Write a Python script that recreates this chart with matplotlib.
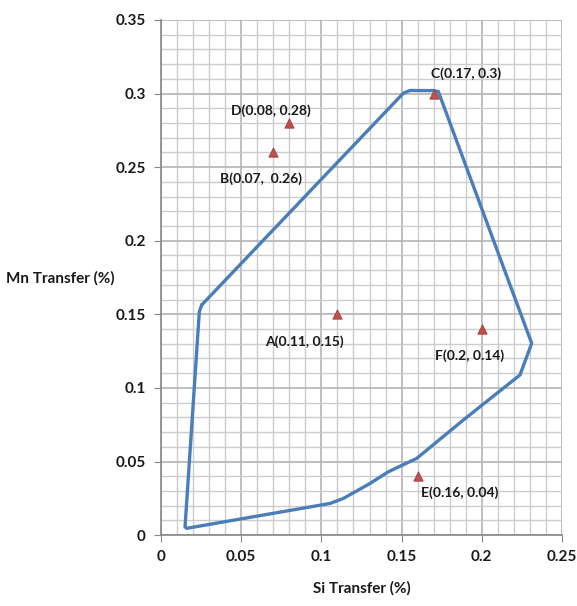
import numpy as np
import matplotlib.pyplot as plt
from matplotlib.ticker import MultipleLocator

plt.rcParams['font.family'] = ['Lato', 'DejaVu Sans']

# Boundary of the feasible region
region_si = [0.0254, 0.0239, 0.0150, 0.0160, 0.1054, 0.1137, 0.1303, 0.1417,
             0.1594, 0.1885, 0.2238, 0.2311, 0.1729, 0.1700, 0.1552, 0.1511, 0.0254]
region_mn = [0.1564, 0.1518, 0.0056, 0.0046, 0.0215, 0.0249, 0.0351, 0.0430,
             0.0521, 0.0782, 0.1088, 0.1303, 0.3014, 0.3020, 0.3021, 0.3003, 0.1564]

# Experiment points
point_names = ['A', 'B', 'C', 'D', 'E', 'F']
point_si = [0.11, 0.07, 0.17, 0.08, 0.16, 0.20]
point_mn = [0.15, 0.26, 0.30, 0.28, 0.04, 0.14]
point_labels = ['A(0.11, 0.15)', 'B(0.07,  0.26)', 'C(0.17, 0.3)',
                'D(0.08, 0.28)', 'E(0.16, 0.04)', 'F(0.2, 0.14)']
# label offsets in points
label_offsets = [(-24, -20), (-9, -19), (23, 14), (-13, 9), (30, -12), (-9, -19)]

fig = plt.figure(figsize=(5.77, 6.06), dpi=100)
ax = fig.add_axes([0.279, 0.117, 0.695, 0.850])

ax.plot(region_si, region_mn, color='#4A7EBB', lw=2.4, solid_joinstyle='round',
        solid_capstyle='round', zorder=3)
ax.scatter(point_si, point_mn, marker='^', s=45, color='#C0504D',
           edgecolors='#A03A37', linewidths=0.6, zorder=4)

for x, y, txt, off in zip(point_si, point_mn, point_labels, label_offsets):
    ax.annotate(txt, (x, y), xytext=off, textcoords='offset points',
                ha='center', va='center', fontsize=10, fontweight='bold',
                color='#1a1a1a', zorder=5)

ax.set_xlim(0, 0.25)
ax.set_ylim(0, 0.35)
ax.xaxis.set_minor_locator(MultipleLocator(0.01))
ax.yaxis.set_minor_locator(MultipleLocator(0.01))
ax.set_xticks(np.arange(0, 0.26, 0.05))
ax.set_xticklabels(['0', '0.05', '0.1', '0.15', '0.2', '0.25'])
ax.set_yticks(np.arange(0, 0.36, 0.05))
ax.set_yticklabels(['0', '0.05', '0.1', '0.15', '0.2', '0.25', '0.3', '0.35'])

ax.grid(which='major', color='#b3b3b3', lw=1.2)
ax.grid(which='minor', color='#cccccc', lw=1.0)
ax.set_axisbelow(True)
ax.tick_params(which='minor', length=0)
ax.tick_params(which='major', direction='out', length=5, color='#868686',
               labelsize=11, pad=6)
for lab in ax.get_xticklabels() + ax.get_yticklabels():
    lab.set_fontweight('bold')
    lab.set_color('#1a1a1a')

for s in ['top', 'right']:
    ax.spines[s].set_visible(False)
for s in ['left', 'bottom']:
    ax.spines[s].set_color('#868686')
    ax.spines[s].set_linewidth(1.2)

ax.set_xlabel('Si Transfer (%)', fontsize=11, fontweight='bold', color='#1a1a1a',
              labelpad=12)
ax.set_ylabel('Mn Transfer (%)', fontsize=11, fontweight='bold', color='#1a1a1a',
              rotation=0, ha='center', va='center')
ax.yaxis.set_label_coords(-0.252, 0.498)

fig.savefig('out.png', dpi=100)
